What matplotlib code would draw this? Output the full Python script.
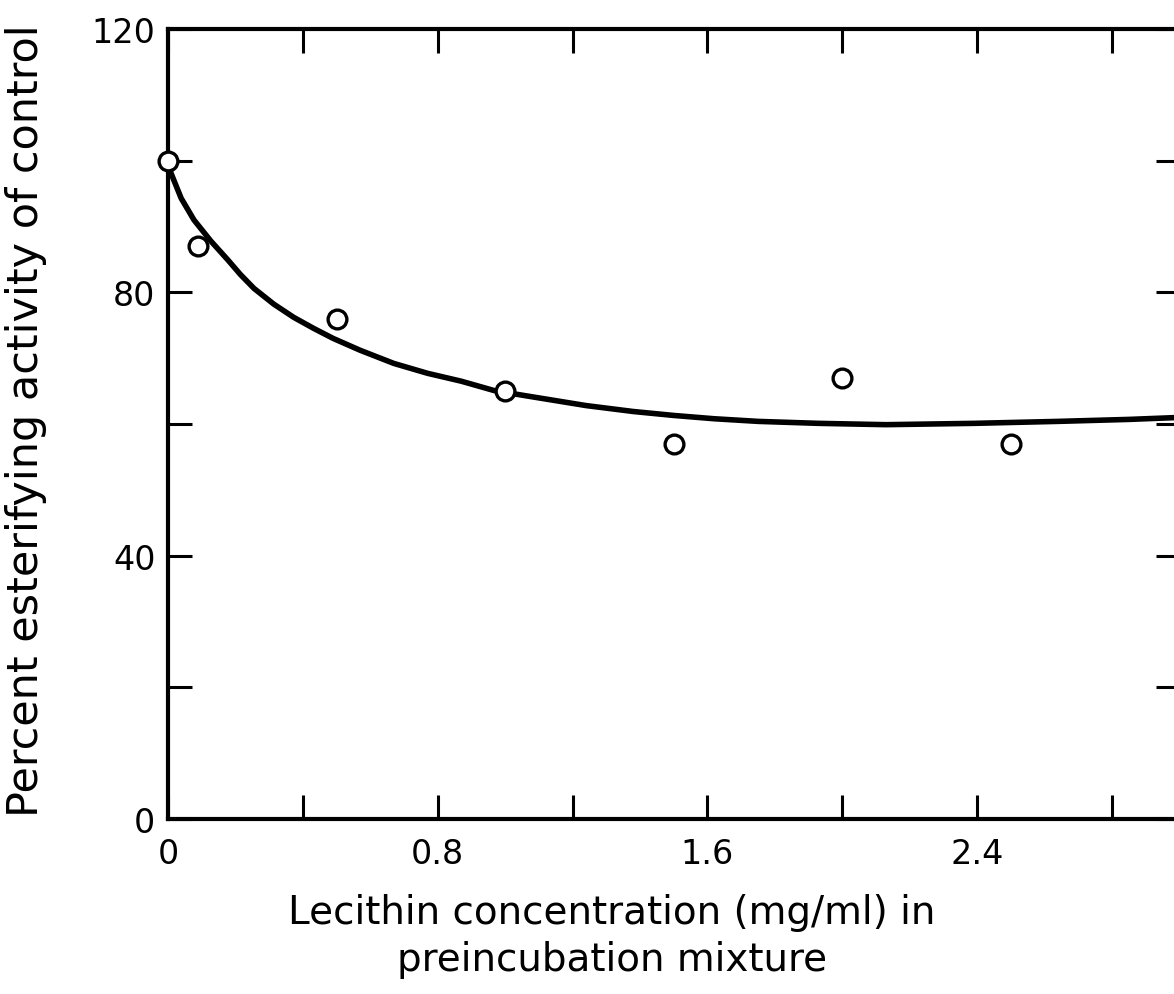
import matplotlib
matplotlib.use("Agg")
import matplotlib.pyplot as plt

# measured points
lecithin = [0.0, 0.09, 0.5, 1.0, 1.5, 2.0, 2.5]
activity = [100, 87, 76, 65, 57, 67, 57]

# fitted curve
curve_x = [0.0, 0.009, 0.039, 0.077, 0.127, 0.178, 0.215, 0.255, 0.314, 0.373,
           0.433, 0.49, 0.57, 0.67, 0.77, 0.87, 0.966, 1.06, 1.24, 1.38,
           1.50, 1.62, 1.75, 1.93, 2.13, 2.39, 2.64, 2.85, 3.0]
curve_y = [100, 98.1, 94.3, 91.0, 87.8, 84.9, 82.7, 80.6, 78.2, 76.2,
           74.5, 73.0, 71.2, 69.2, 67.7, 66.5, 65.1, 64.3, 62.8, 61.9,
           61.3, 60.8, 60.4, 60.1, 59.9, 60.1, 60.4, 60.7, 61.0]

x_ticks = [0, 0.4, 0.8, 1.2, 1.6, 2.0, 2.4, 2.8]
x_labels = ['0', '', '0.8', '', '1.6', '', '2.4', '']
y_ticks = [0, 20, 40, 60, 80, 100, 120]
y_labels = ['0', '', '40', '', '80', '', '120']

plt.rcParams['font.family'] = ['DejaVu Sans']

fig = plt.figure(figsize=(11.74, 9.95), dpi=100)
ax = fig.add_axes([0.1431, 0.1759, 0.8616, 0.7939])

ax.plot(curve_x, curve_y, color='black', lw=4, solid_capstyle='butt',
        solid_joinstyle='round', zorder=3)
ax.plot(lecithin, activity, 'o', ms=13.5, mfc='white', mec='black', mew=2.4,
        clip_on=False, zorder=5)

ax.set_xlim(0, 3.0)
ax.set_ylim(0, 120)
ax.set_xticks(x_ticks)
ax.set_xticklabels(x_labels)
ax.set_yticks(y_ticks)
ax.set_yticklabels(y_labels)

for s in ax.spines.values():
    s.set_linewidth(3)
ax.tick_params(direction='in', length=17, width=2.2, labelsize=24,
               top=True, right=True)
ax.tick_params(axis='x', pad=13)
ax.tick_params(axis='y', pad=9)

ax.set_xlabel('Lecithin concentration (mg/ml) in\npreincubation mixture',
              fontsize=28, linespacing=1.3)
ax.xaxis.set_label_coords(0.439, -0.094, transform=ax.transAxes)
ax.xaxis.label.set_va('top')
ax.set_ylabel('Percent esterifying activity of control', fontsize=31)
ax.yaxis.set_label_coords(-0.12, 0.505)

fig.savefig('out.png', dpi=100)
